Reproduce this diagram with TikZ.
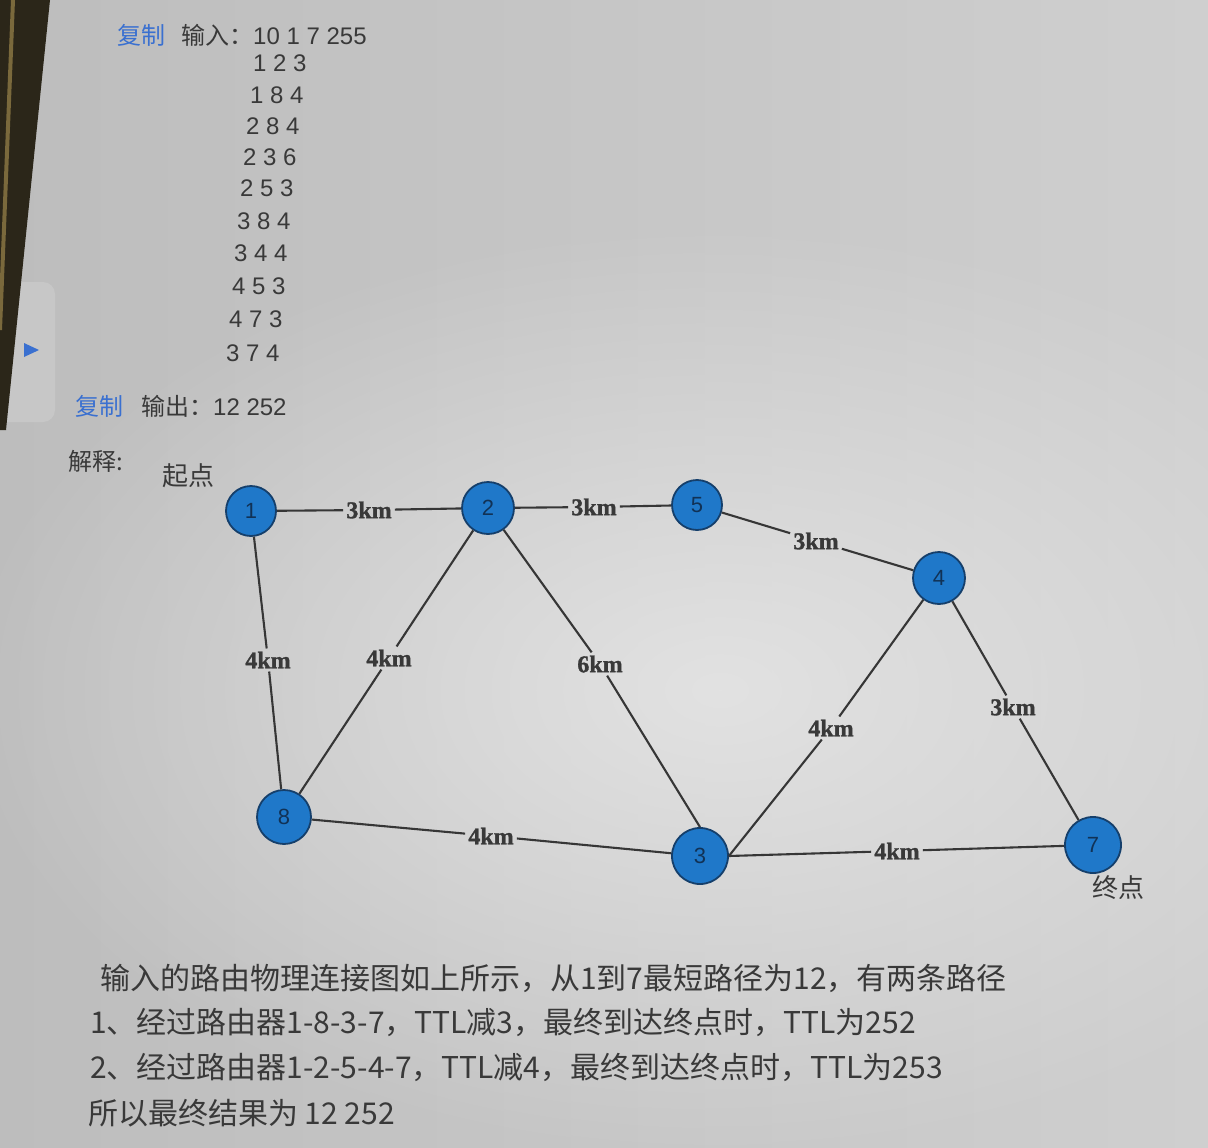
\documentclass[tikz,border=0pt]{standalone}
\usepackage{fontspec}
\setmainfont{Liberation Sans}
\newfontfamily\cjk{Noto Sans CJK SC}
\newfontfamily\serifl[FakeBold=1.3]{Liberation Serif}
\usetikzlibrary{fadings}
\tikzfading[name=softspot, inner color=transparent!0, outer color=transparent!100]
\definecolor{bgbase}{HTML}{BDBDBD}
\definecolor{bgright}{HTML}{CFCFCF}
\definecolor{bglight}{HTML}{E2E2E2}
\definecolor{nodeblue}{HTML}{1F78C9}
\definecolor{nodeline}{HTML}{153F6B}
\definecolor{ink}{HTML}{393939}
\definecolor{linkblue}{HTML}{3A70D0}
\definecolor{bezel}{HTML}{2B2619}
\definecolor{gold}{HTML}{7A693C}
\definecolor{tabc}{HTML}{C7C7C7}
\tikzset{
  edge/.style={draw=ink!95!black, line width=2.1pt},
  rnode/.style={circle, fill=nodeblue, draw=nodeline, line width=1.8pt, inner sep=0pt,
    font=\fontsize{22}{22}\selectfont, text=nodeline!80!black},
  lbl/.style={inner sep=3pt, font=\serifl\bfseries\fontsize{24}{24}\selectfont, text=ink},
  txt/.style={anchor=west, inner sep=0pt, text=ink},
  small/.style={txt, font=\cjk\fontsize{24}{24}\selectfont},
  big/.style={txt, font=\cjk\fontsize{30}{30}\selectfont},
  endtag/.style={inner sep=0pt, text=ink, font=\cjk\fontsize{26}{26}\selectfont}
}
\begin{document}
\begin{tikzpicture}[x=1pt,y=-1pt]
\useasboundingbox (0,0) rectangle (1208,1148);
% background
\shade[left color=bgbase, right color=bgright] (0,0) rectangle (1208,1148);
\fill[bglight, path fading=softspot] (720,690) ellipse [x radius=760, y radius=470];
% side tab and bezel
\fill[tabc, rounded corners=12pt] (-12,282) rectangle (55,422);
\fill[bezel] (0,0) -- (50,0) -- (6,430) -- (0,430) -- cycle;
\draw[gold, line width=4pt] (13,0) -- (0,330);
\fill[linkblue] (24,343) -- (39,350) -- (24,357) -- cycle;

% top text
\node[small, text=linkblue] (cp1) at (117,35) {复制};
\node[small] (in) at (181,35) {输入：\fontspec{Liberation Sans}10 1 7 255};
\node[txt, font=\fontsize{24}{24}\selectfont] (r1) at (253,63) {1 2 3};
\node[txt, font=\fontsize{24}{24}\selectfont] (r2) at (250,95) {1 8 4};
\node[txt, font=\fontsize{24}{24}\selectfont] (r3) at (246,126) {2 8 4};
\node[txt, font=\fontsize{24}{24}\selectfont] (r4) at (243,157) {2 3 6};
\node[txt, font=\fontsize{24}{24}\selectfont] (r5) at (240,188) {2 5 3};
\node[txt, font=\fontsize{24}{24}\selectfont] (r6) at (237,221) {3 8 4};
\node[txt, font=\fontsize{24}{24}\selectfont] (r7) at (234,253) {3 4 4};
\node[txt, font=\fontsize{24}{24}\selectfont] (r8) at (232,286) {4 5 3};
\node[txt, font=\fontsize{24}{24}\selectfont] (r9) at (229,319) {4 7 3};
\node[txt, font=\fontsize{24}{24}\selectfont] (r10) at (226,353) {3 7 4};
\node[small, text=linkblue] (cp2) at (75,406) {复制};
\node[small] (out) at (141,406) {输出：\fontspec{Liberation Sans}12 252};
\node[small] (expl) at (68,461) {解释:};

% graph nodes
\node[rnode, minimum size=50pt] (n1) at (251,511) {1};
\node[rnode, minimum size=52pt] (n2) at (488,508) {2};
\node[rnode, minimum size=50pt] (n5) at (697,505) {5};
\node[rnode, minimum size=52pt] (n4) at (939,578) {4};
\node[rnode, minimum size=54pt] (n8) at (284,817) {8};
\node[rnode, minimum size=56pt] (n3) at (700,856) {3};
\node[rnode, minimum size=56pt] (n7) at (1093,845) {7};
\node[endtag] (start) at (188,476) {起点};
\node[endtag] (goal) at (1118,888) {终点};

% edge labels
\node[lbl] (l12) at (369,510) {3km};
\node[lbl] (l25) at (594,507) {3km};
\node[lbl] (l54) at (816,541) {3km};
\node[lbl] (l18) at (268,660) {4km};
\node[lbl] (l28) at (389,658) {4km};
\node[lbl] (l23) at (600,664) {6km};
\node[lbl] (l43) at (831,728) {4km};
\node[lbl] (l47) at (1013,707) {3km};
\node[lbl] (l83) at (491,836) {4km};
\node[lbl] (l37) at (897,851) {4km};

% edges, broken at their labels
\draw[edge] (n1) -- (l12) -- (n2);
\draw[edge] (n2) -- (l25) -- (n5);
\draw[edge] (n5) -- (l54) -- (n4);
\draw[edge] (n1) -- (l18) -- (n8);
\draw[edge] (n2) -- (l28) -- (n8);
\draw[edge] (n2) -- (l23) -- (n3.north);
\draw[edge] (n4) -- (l43) -- (n3.east);
\draw[edge] (n4) -- (l47) -- (n7);
\draw[edge] (n8) -- (l83) -- (n3);
\draw[edge] (n3.east) -- (l37) -- (n7);

% bottom text
\node[big] (b1) at (100,978) {输入的路由物理连接图如上所示，从1到7最短路径为12，有两条路径};
\node[big] (b2) at (90,1022) {1、经过路由器1-8-3-7，TTL减3，最终到达终点时，TTL为252};
\node[big] (b3) at (90,1067) {2、经过路由器1-2-5-4-7，TTL减4，最终到达终点时，TTL为253};
\node[big] (b4) at (88,1113) {所以最终结果为 12 252};
\end{tikzpicture}
\end{document}
